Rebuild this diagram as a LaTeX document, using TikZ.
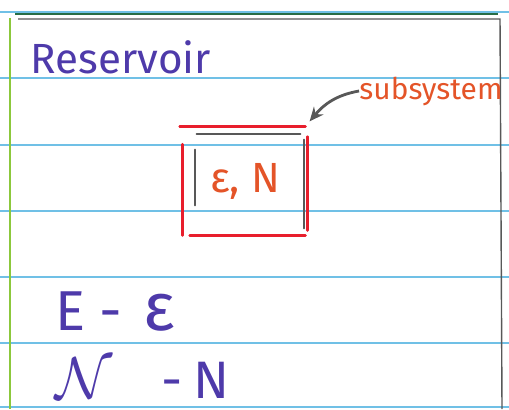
\documentclass[tikz,border=0pt]{standalone}
\usepackage{amsmath, amssymb}
\usepackage{fontspec}
\setmainfont{Fira Sans}
\usepackage{xcolor}
\usepackage{tikz}
\usetikzlibrary{arrows.meta, positioning}

\definecolor{inkpurple}{RGB}{78,58,170}
\definecolor{inkorange}{RGB}{228,84,40}
\definecolor{inkred}{RGB}{232,30,44}
\definecolor{inkgray}{RGB}{88,88,88}
\definecolor{ruleblue}{RGB}{112,192,230}
\definecolor{margingreen}{RGB}{140,200,60}
\definecolor{bordergreen}{RGB}{40,110,70}

\begin{document}
\begin{tikzpicture}[
  x=0.02cm, y=-0.02cm,
  hand/.style = {inner sep=0pt, font=\fontsize{#1}{#1}\selectfont},
  hand/.default = 20,
  redline/.style = {inkred, line width=1.6pt, line cap=round},
  grayline/.style = {inkgray, line width=1.1pt, line cap=round}
]
  \useasboundingbox (0,0) rectangle (509,409);
  \fill[white] (0,0) rectangle (509,409);

  % notebook paper
  \foreach \y in {12,78,145,211,277,343,407}
    \draw[ruleblue, line width=0.9pt] (0,\y) -- (509,\y);
  \draw[margingreen, line width=1.6pt] (10,18) -- (10,409);
  \draw[bordergreen, line width=1.4pt] (15,14) -- (498,14);
  \draw[inkgray, line width=0.8pt] (18,19) -- (500,19) -- (502,409);

  % labels
  \node[hand=24, text=inkpurple] (reservoir) at (121,57) {Reservoir};
  \node[hand=17, text=inkorange] (sublabel)  at (431,91) {subsystem};
  \node[hand=24, text=inkorange, minimum width=2.5cm, minimum height=2.16cm]
    (subsys) at (245,181) {ε, N};
  \node[hand=32, text=inkpurple, text depth=0pt, anchor=base west] (energy) at (55,330)
    {E\hspace{8pt}-\hspace{12pt}\scalebox{1.2}{ε}};
  \node[hand=30, text=inkpurple, text depth=0pt, anchor=base west] (number) at (55,398)
    {\scalebox{1.35}{$\mathcal{N}$}\hspace{28pt}-\hspace{6pt}N};

  % subsystem walls
  \draw[redline]  ([xshift=-1.4pt]subsys.north west) -- ([xshift=-1.4pt]subsys.north east);
  \draw[redline]  ([yshift=-5.7pt]subsys.north east) -- ([yshift=2.8pt]subsys.south east);
  \draw[redline]  ([yshift=-10pt]subsys.north west) -- (subsys.south west);
  \draw[redline]  ([xshift=4.3pt]subsys.south west) -- ([xshift=-1.4pt]subsys.south east);
  \draw[grayline] ([xshift=8.2pt,yshift=-4pt]subsys.north west) -- ([xshift=-4.3pt,yshift=-4pt]subsys.north east);
  \draw[grayline] ([xshift=-2pt,yshift=-7.4pt]subsys.north east) -- ([xshift=-2pt,yshift=4pt]subsys.south east);
  \draw[grayline] ([xshift=7.1pt,yshift=-13pt]subsys.north west) -- ([xshift=7.1pt,yshift=17pt]subsys.south west);

  \draw[-{Stealth[length=8pt,width=7pt]}, inkgray, line width=1.6pt]
    (sublabel.west) to[out=190, in=50] ([xshift=1pt,yshift=3pt]subsys.north east);
\end{tikzpicture}
\end{document}
